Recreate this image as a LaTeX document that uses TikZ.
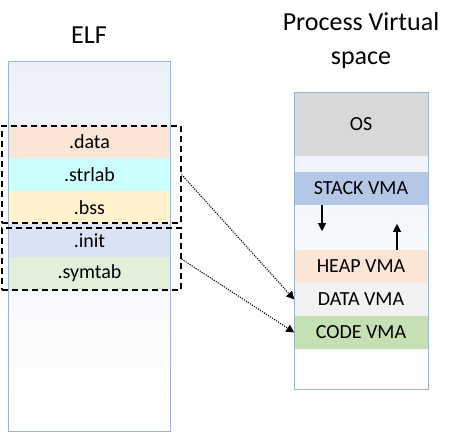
\documentclass[tikz,border=0pt]{standalone}
\usepackage{fontspec}
\setmainfont{Carlito}
\usetikzlibrary{arrows.meta}

\definecolor{colborder}{HTML}{9AB3D1}
\definecolor{colshade}{HTML}{ECF1F9}
\definecolor{coldata}{HTML}{FBE5D6}
\definecolor{colstr}{HTML}{CCFFFF}
\definecolor{colbss}{HTML}{FFF2CC}
\definecolor{colinit}{HTML}{DAE3F3}
\definecolor{colsym}{HTML}{E2F0D9}
\definecolor{colos}{HTML}{D9D9D9}
\definecolor{colstack}{HTML}{B4C7E7}
\definecolor{colheap}{HTML}{FBE5D6}
\definecolor{colvdata}{HTML}{F2F2F2}
\definecolor{colcode}{HTML}{C5E0B4}

\begin{document}
\begin{tikzpicture}[x=1pt,y=-1pt,
  column/.style={draw=colborder,line width=1pt,top color=colshade,bottom color=white,inner sep=0pt},
  sec/.style={minimum width=161pt,minimum height=33pt,inner sep=0pt,font=\fontsize{20}{20}\selectfont},
  vma/.style={minimum width=133pt,minimum height=33pt,inner sep=0pt,font=\fontsize{20}{20}\selectfont},
  group/.style={draw,line width=1.1pt,dash pattern=on 6pt off 4pt,inner sep=0pt},
  link/.style={-{Triangle[length=8pt,width=8pt]},line width=1pt,dash pattern=on 1.2pt off 1.2pt},
  growarrow/.style={-{Triangle[length=8pt,width=8pt]},line width=1.1pt}]
\useasboundingbox (0,0) rectangle (462,433);

% titles
\node[font=\fontsize{26}{26}\selectfont] (elftitle) at (89,35) {ELF};
\node[font=\fontsize{26}{34}\selectfont,align=center] (proctitle) at (361,41) {Process Virtual\\space};

% ELF file
\node[column,minimum width=162pt,minimum height=369pt] (elf) at (89,246.5) {};
\node[sec,fill=coldata] (data) at (89.5,141.5) {.data};
\node[sec,fill=colstr] (strlab) at (89.5,174.5) {.strlab};
\node[sec,fill=colbss] (bss) at (89.5,207.5) {.bss};
\node[sec,fill=colinit] (init) at (89.5,240.5) {.init};
\node[sec,fill=colsym] (symtab) at (89.5,273.5) {.symtab};

\node[group,minimum width=179pt,minimum height=97pt] (grpa) at (91.5,174.5) {};
\node[group,minimum width=179pt,minimum height=62pt] (grpb) at (91.5,259) {};

% process space
\node[column,minimum width=134pt,minimum height=296pt] (proc) at (361,241) {};
\node[vma,fill=colos,minimum height=63pt] (os) at (361,124.5) {OS};
\node[vma,fill=colstack] (stack) at (361,188.5) {STACK VMA};
\node[vma,fill=colheap] (heap) at (361,266.5) {HEAP VMA};
\node[vma,fill=colvdata] (vdata) at (361,299.5) {DATA VMA};
\node[vma,fill=colcode] (code) at (361,332.5) {CODE VMA};

\draw[growarrow] ([xshift=-39pt]stack.south) -- ++(0,26);
\draw[growarrow] ([xshift=36pt]heap.north) -- ++(0,-26);

\draw[link] (grpa.east) -- (vdata.west);
\draw[link] (grpb.east) -- (code.west);
\end{tikzpicture}
\end{document}
